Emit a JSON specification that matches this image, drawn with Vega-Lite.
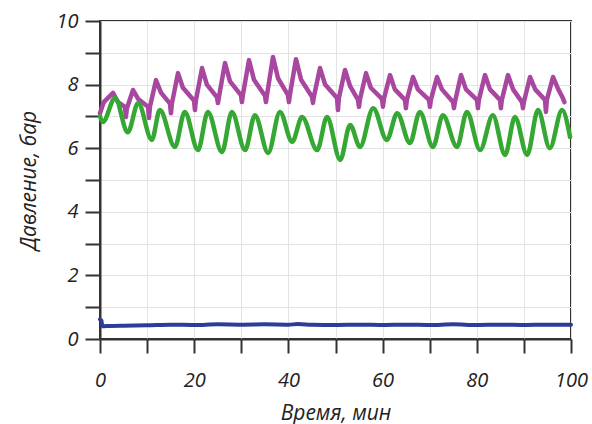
{
  "$schema": "https://vega.github.io/schema/vega-lite/v6.json",
  "autosize": "none",
  "width": 471,
  "height": 318,
  "padding": {"left": 100, "top": 21, "right": 21, "bottom": 85},
  "background": "white",
  "config": {
    "view": {"stroke": "#333333", "strokeWidth": 2},
    "font": "Open Sans",
    "axis": {
      "domainColor": "#333333", "domainWidth": 2,
      "tickColor": "#333333", "tickWidth": 2, "tickSize": 14,
      "gridColor": "#e3e3e3", "gridWidth": 1,
      "labelFont": "Open Sans", "labelFontStyle": "italic", "labelFontSize": 20, "labelColor": "#222222",
      "titleFont": "Open Sans", "titleFontStyle": "italic", "titleFontWeight": "normal", "titleFontSize": 21, "titleColor": "#222222"
    }
  },
  "data": {"values": [
    {"s": "m", "t": 0, "v": 7.1}, {"s": "m", "t": 0.8, "v": 7.45}, {"s": "m", "t": 2.76, "v": 7.74},
    {"s": "m", "t": 3.8, "v": 7.45}, {"s": "m", "t": 5.3, "v": 7.3}, {"s": "m", "t": 5.5, "v": 6.98}, {"s": "m", "t": 5.7, "v": 7.25}, {"s": "m", "t": 7.01, "v": 7.83},
    {"s": "m", "t": 8.1, "v": 7.55}, {"s": "m", "t": 10.2, "v": 7.3}, {"s": "m", "t": 10.4, "v": 6.95}, {"s": "m", "t": 10.6, "v": 7.3}, {"s": "m", "t": 11.89, "v": 8.14},
    {"s": "m", "t": 12.95, "v": 7.75}, {"s": "m", "t": 14.86, "v": 7.4}, {"s": "m", "t": 15.06, "v": 7.1}, {"s": "m", "t": 15.26, "v": 7.4}, {"s": "m", "t": 16.56, "v": 8.36},
    {"s": "m", "t": 17.6, "v": 7.9}, {"s": "m", "t": 19.96, "v": 7.5}, {"s": "m", "t": 20.16, "v": 7.2}, {"s": "m", "t": 20.36, "v": 7.5}, {"s": "m", "t": 21.66, "v": 8.52},
    {"s": "m", "t": 22.7, "v": 8.0}, {"s": "m", "t": 24.84, "v": 7.6}, {"s": "m", "t": 25.04, "v": 7.42}, {"s": "m", "t": 25.24, "v": 7.6}, {"s": "m", "t": 26.54, "v": 8.68},
    {"s": "m", "t": 27.6, "v": 8.1}, {"s": "m", "t": 29.93, "v": 7.67}, {"s": "m", "t": 30.13, "v": 7.45}, {"s": "m", "t": 30.33, "v": 7.67}, {"s": "m", "t": 31.63, "v": 8.77},
    {"s": "m", "t": 32.7, "v": 8.15}, {"s": "m", "t": 35.03, "v": 7.65}, {"s": "m", "t": 35.23, "v": 7.45}, {"s": "m", "t": 35.43, "v": 7.65}, {"s": "m", "t": 36.73, "v": 8.87},
    {"s": "m", "t": 37.8, "v": 8.2}, {"s": "m", "t": 39.91, "v": 7.67}, {"s": "m", "t": 40.11, "v": 7.45}, {"s": "m", "t": 40.31, "v": 7.67}, {"s": "m", "t": 41.61, "v": 8.8},
    {"s": "m", "t": 42.7, "v": 8.15}, {"s": "m", "t": 45.01, "v": 7.62}, {"s": "m", "t": 45.21, "v": 7.42}, {"s": "m", "t": 45.41, "v": 7.62}, {"s": "m", "t": 46.71, "v": 8.52},
    {"s": "m", "t": 47.8, "v": 8.0}, {"s": "m", "t": 50.32, "v": 7.58}, {"s": "m", "t": 50.52, "v": 7.2}, {"s": "m", "t": 50.72, "v": 7.58}, {"s": "m", "t": 52.02, "v": 8.46},
    {"s": "m", "t": 53.1, "v": 7.95}, {"s": "m", "t": 54.78, "v": 7.52}, {"s": "m", "t": 54.98, "v": 7.3}, {"s": "m", "t": 55.18, "v": 7.52}, {"s": "m", "t": 56.48, "v": 8.36},
    {"s": "m", "t": 57.5, "v": 7.9}, {"s": "m", "t": 59.87, "v": 7.55}, {"s": "m", "t": 60.07, "v": 7.3}, {"s": "m", "t": 60.27, "v": 7.55}, {"s": "m", "t": 61.57, "v": 8.3},
    {"s": "m", "t": 62.6, "v": 7.85}, {"s": "m", "t": 64.75, "v": 7.52}, {"s": "m", "t": 64.95, "v": 7.26}, {"s": "m", "t": 65.15, "v": 7.52}, {"s": "m", "t": 66.45, "v": 8.24},
    {"s": "m", "t": 67.5, "v": 7.85}, {"s": "m", "t": 69.85, "v": 7.52}, {"s": "m", "t": 70.05, "v": 7.3}, {"s": "m", "t": 70.25, "v": 7.52}, {"s": "m", "t": 71.55, "v": 8.24},
    {"s": "m", "t": 72.6, "v": 7.85}, {"s": "m", "t": 74.95, "v": 7.45}, {"s": "m", "t": 75.15, "v": 7.26}, {"s": "m", "t": 75.35, "v": 7.45}, {"s": "m", "t": 76.65, "v": 8.3},
    {"s": "m", "t": 77.7, "v": 7.85}, {"s": "m", "t": 80.04, "v": 7.52}, {"s": "m", "t": 80.24, "v": 7.26}, {"s": "m", "t": 80.44, "v": 7.52}, {"s": "m", "t": 81.74, "v": 8.3},
    {"s": "m", "t": 82.8, "v": 7.85}, {"s": "m", "t": 84.92, "v": 7.52}, {"s": "m", "t": 85.12, "v": 7.26}, {"s": "m", "t": 85.32, "v": 7.52}, {"s": "m", "t": 86.62, "v": 8.3},
    {"s": "m", "t": 87.7, "v": 7.85}, {"s": "m", "t": 89.6, "v": 7.45}, {"s": "m", "t": 89.8, "v": 7.26}, {"s": "m", "t": 90.0, "v": 7.45}, {"s": "m", "t": 91.3, "v": 8.24},
    {"s": "m", "t": 92.4, "v": 7.85}, {"s": "m", "t": 94.48, "v": 7.52}, {"s": "m", "t": 94.68, "v": 7.14}, {"s": "m", "t": 94.88, "v": 7.52}, {"s": "m", "t": 96.18, "v": 8.24},
    {"s": "m", "t": 97.3, "v": 7.85}, {"s": "m", "t": 98.2, "v": 7.6}, {"s": "m", "t": 98.6, "v": 7.45},

    {"s": "g", "t": 0, "v": 7.0}, {"s": "g", "t": 0.6, "v": 6.82}, {"s": "g", "t": 3.2, "v": 7.58}, {"s": "g", "t": 5.9, "v": 6.5},
    {"s": "g", "t": 8.1, "v": 7.42}, {"s": "g", "t": 11.0, "v": 6.26}, {"s": "g", "t": 12.7, "v": 7.2}, {"s": "g", "t": 15.9, "v": 6.04},
    {"s": "g", "t": 18.0, "v": 7.14}, {"s": "g", "t": 20.8, "v": 5.94}, {"s": "g", "t": 22.9, "v": 7.14}, {"s": "g", "t": 25.9, "v": 5.88},
    {"s": "g", "t": 28.0, "v": 7.14}, {"s": "g", "t": 30.8, "v": 5.94}, {"s": "g", "t": 32.9, "v": 7.04}, {"s": "g", "t": 35.7, "v": 5.85},
    {"s": "g", "t": 38.2, "v": 7.14}, {"s": "g", "t": 40.8, "v": 6.2}, {"s": "g", "t": 42.9, "v": 6.98}, {"s": "g", "t": 46.1, "v": 5.94},
    {"s": "g", "t": 48.2, "v": 6.98}, {"s": "g", "t": 51.0, "v": 5.63}, {"s": "g", "t": 53.1, "v": 6.73}, {"s": "g", "t": 55.2, "v": 6.04},
    {"s": "g", "t": 58.0, "v": 7.26}, {"s": "g", "t": 60.9, "v": 6.26}, {"s": "g", "t": 63.1, "v": 7.1}, {"s": "g", "t": 65.8, "v": 6.16},
    {"s": "g", "t": 67.9, "v": 7.14}, {"s": "g", "t": 70.7, "v": 6.04}, {"s": "g", "t": 72.8, "v": 7.04}, {"s": "g", "t": 75.8, "v": 6.04},
    {"s": "g", "t": 77.9, "v": 7.14}, {"s": "g", "t": 80.7, "v": 5.94}, {"s": "g", "t": 83.4, "v": 7.04}, {"s": "g", "t": 86.0, "v": 5.79},
    {"s": "g", "t": 88.1, "v": 6.98}, {"s": "g", "t": 90.7, "v": 5.79}, {"s": "g", "t": 93.0, "v": 7.2}, {"s": "g", "t": 95.5, "v": 6.0},
    {"s": "g", "t": 98.1, "v": 7.2}, {"s": "g", "t": 99.8, "v": 6.35},

    {"s": "b", "t": 0, "v": 0.62}, {"s": "b", "t": 0.3, "v": 0.58}, {"s": "b", "t": 0.5, "v": 0.4}, {"s": "b", "t": 2, "v": 0.41},
    {"s": "b", "t": 5, "v": 0.42}, {"s": "b", "t": 10, "v": 0.43}, {"s": "b", "t": 15, "v": 0.45}, {"s": "b", "t": 20, "v": 0.44},
    {"s": "b", "t": 25, "v": 0.46}, {"s": "b", "t": 30, "v": 0.45}, {"s": "b", "t": 35, "v": 0.46}, {"s": "b", "t": 40, "v": 0.45},
    {"s": "b", "t": 42, "v": 0.47}, {"s": "b", "t": 45, "v": 0.45}, {"s": "b", "t": 50, "v": 0.44}, {"s": "b", "t": 55, "v": 0.45},
    {"s": "b", "t": 60, "v": 0.44}, {"s": "b", "t": 65, "v": 0.45}, {"s": "b", "t": 70, "v": 0.44}, {"s": "b", "t": 75, "v": 0.46},
    {"s": "b", "t": 80, "v": 0.44}, {"s": "b", "t": 85, "v": 0.45}, {"s": "b", "t": 90, "v": 0.44}, {"s": "b", "t": 95, "v": 0.45},
    {"s": "b", "t": 100, "v": 0.45}
  ]},
  "encoding": {
    "x": {
      "field": "t", "type": "quantitative",
      "scale": {"domain": [0, 100], "nice": false, "zero": false},
      "axis": {
        "title": "Время, мин",
        "values": [0, 10, 20, 30, 40, 50, 60, 70, 80, 90, 100],
        "labelExpr": "datum.value % 20 === 0 ? datum.label : ''",
        "labelOverlap": false, "labelFlush": false,
        "labelPadding": 17, "titlePadding": 12,
        "encode": {
          "ticks": {"update": {"y2": {"signal": "datum.value % 20 === 0 ? 14 : 8"}}},
          "grid": {"update": {"strokeOpacity": {"signal": "datum.value % 20 === 0 ? 1 : 0"}}}
        }
      }
    },
    "y": {
      "field": "v", "type": "quantitative",
      "scale": {"domain": [0, 10], "nice": false, "zero": false},
      "axis": {
        "title": "Давление, бар",
        "values": [0, 1, 2, 3, 4, 5, 6, 7, 8, 9, 10],
        "labelExpr": "datum.value % 2 === 0 ? datum.label : ''",
        "labelOverlap": false, "labelFlush": false,
        "tickSize": 15, "labelPadding": 7, "titlePadding": 16,
        "encode": {
          "ticks": {"update": {"x2": {"signal": "datum.value % 2 === 0 ? -15 : -8"}}},
          "grid": {"update": {"strokeOpacity": {"signal": "datum.value % 2 === 0 ? 1 : 0"}}}
        }
      }
    }
  },
  "layer": [
    {
      "transform": [{"filter": "datum.s === 'm'"}],
      "mark": {"type": "line", "color": "#a8479f", "strokeWidth": 4.5, "strokeJoin": "round", "strokeCap": "round"}
    },
    {
      "transform": [{"filter": "datum.s === 'g'"}],
      "mark": {"type": "line", "color": "#35a733", "strokeWidth": 4.5, "interpolate": "monotone", "strokeCap": "round"}
    },
    {
      "transform": [{"filter": "datum.s === 'b'"}],
      "mark": {"type": "line", "color": "#2b3d9a", "strokeWidth": 4, "interpolate": "monotone", "strokeCap": "round"}
    }
  ]
}
